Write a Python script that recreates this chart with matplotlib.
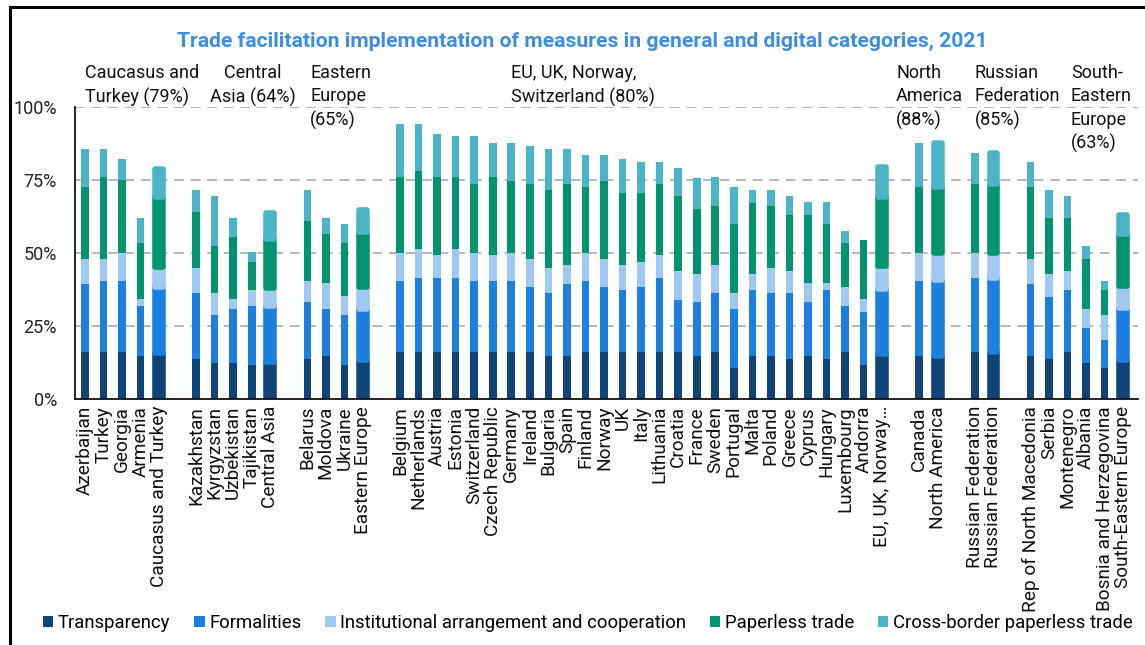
import matplotlib
matplotlib.use("Agg")
import matplotlib.pyplot as plt
from matplotlib.patches import Patch
from matplotlib.lines import Line2D
import numpy as np

plt.rcParams['font.family'] = ['Roboto', 'DejaVu Sans']

# ---------------- data ----------------
labels = [
    "Azerbaijan", "Turkey", "Georgia", "Armenia", "Caucasus and Turkey", None,
    "Kazakhstan", "Kyrgyzstan", "Uzbekistan", "Tajikistan", "Central Asia", None,
    "Belarus", "Moldova", "Ukraine", "Eastern Europe", None,
    "Belgium", "Netherlands", "Austria", "Estonia", "Switzerland", "Czech Republic",
    "Germany", "Ireland", "Bulgaria", "Spain", "Finland", "Norway", "UK", "Italy",
    "Lithuania", "Croatia", "France", "Sweden", "Portugal", "Malta", "Poland",
    "Greece", "Cyprus", "Hungary", "Luxembourg", "Andorra", "EU, UK, Norway\u2026", None,
    "Canada", "North America", None,
    "Russian Federation", "Russian Federation", None,
    "Rep of North Macedonia", "Serbia", "Montenegro", "Albania",
    "Bosnia and Herzegovina", "South-Eastern Europe",
]
is_region = [
    0, 0, 0, 0, 1, 0,
    0, 0, 0, 0, 1, 0,
    0, 0, 0, 1, 0,
    0, 0, 0, 0, 0, 0, 0, 0, 0, 0, 0, 0, 0, 0, 0, 0, 0, 0, 0, 0, 0, 0, 0, 0, 0, 0, 1, 0,
    0, 1, 0,
    0, 1, 0,
    0, 0, 0, 0, 0, 1,
]
transparency = [
    16.0, 16.0, 16.0, 14.8, 15.8, 0,
    13.8, 12.5, 12.5, 11.5, 12.7, 0,
    13.8, 14.8, 11.5, 13.4, 0,
    16.0, 16.0, 16.0, 16.0, 16.0, 16.0, 16.0, 16.0, 14.9, 14.9, 16.0, 16.0, 16.0, 16.0,
    16.0, 16.0, 14.9, 16.0, 10.5, 14.9, 14.9, 13.8, 14.9, 13.8, 16.0, 11.5, 15.3, 0,
    14.9, 14.9, 0,
    16.0, 16.0, 0,
    14.9, 13.8, 16.0, 12.5, 10.5, 13.5,
]
formalities = [
    23.5, 24.4, 24.4, 17.1, 22.6, 0,
    22.6, 16.2, 18.4, 20.4, 19.2, 0,
    19.3, 16.1, 17.2, 17.6, 0,
    24.5, 25.6, 25.6, 25.6, 24.5, 24.5, 24.5, 22.4, 21.4, 24.6, 24.5, 22.4, 21.4, 22.4,
    25.6, 18.0, 18.2, 20.4, 20.4, 22.5, 21.5, 22.6, 18.2, 23.6, 15.9, 18.4, 22.3, 0,
    25.6, 25.8, 0,
    25.6, 25.6, 0,
    24.6, 21.3, 21.4, 11.9, 9.8, 17.8,
]
institutional = [
    8.6, 7.7, 9.8, 2.3, 6.8, 0,
    8.4, 7.7, 3.3, 5.5, 6.3, 0,
    7.5, 8.7, 6.5, 7.4, 0,
    9.7, 9.7, 7.7, 9.7, 9.7, 8.8, 9.7, 9.7, 8.5, 6.5, 9.7, 9.7, 8.6, 8.6,
    7.7, 9.8, 9.7, 9.6, 5.5, 5.4, 8.4, 7.4, 6.5, 2.2, 6.5, 4.3, 7.9, 0,
    9.7, 9.5, 0,
    8.6, 8.6, 0,
    8.6, 7.7, 6.4, 6.5, 8.5, 7.6,
]
paperless = [
    24.5, 28.0, 24.8, 19.3, 24.2, 0,
    19.3, 16.1, 21.3, 9.6, 16.7, 0,
    20.4, 17.0, 18.3, 18.7, 0,
    25.9, 26.8, 26.8, 24.8, 23.6, 26.8, 24.7, 25.7, 26.9, 27.8, 22.5, 26.8, 24.6, 23.6,
    24.5, 25.8, 22.3, 20.1, 23.6, 24.5, 21.3, 19.3, 23.5, 20.4, 15.1, 20.3, 23.9, 0,
    22.4, 22.4, 0,
    23.6, 23.6, 0,
    24.5, 19.2, 18.2, 17.2, 8.6, 17.7,
]
crossborder = [
    13.0, 9.5, 7.4, 8.5, 9.4, 0,
    7.6, 17.1, 6.5, 3.3, 8.9, 0,
    10.7, 5.4, 6.5, 7.8, 0,
    18.1, 16.1, 14.9, 13.9, 16.2, 11.7, 12.9, 13.0, 13.9, 11.8, 10.8, 8.6, 11.8, 10.7,
    7.5, 9.6, 10.8, 10.0, 12.7, 4.4, 5.6, 6.5, 4.3, 7.4, 4.2, 0.0, 10.2, 0,
    15.2, 15.0, 0,
    10.7, 10.7, 0,
    8.7, 9.7, 7.6, 4.4, 3.2, 6.5,
]
series_names = ["Transparency", "Formalities", "Institutional arrangement and cooperation",
                "Paperless trade", "Cross-border paperless trade"]
colors = ["#0f4479", "#1b80e0", "#9dc9f2", "#02946f", "#4bb5c7"]
yticks = [0, 25, 50, 75, 100]
ytick_labels = ["0%", "25%", "50%", "75%", "100%"]
title = "Trade facilitation implementation of measures in general and digital categories, 2021"
group_notes = [
    ("Caucasus and\nTurkey (79%)", 85, 'left'),
    ("Central\nAsia (64%)", 253, 'center'),
    ("Eastern\nEurope\n(65%)", 310, 'left'),
    ("EU, UK, Norway,\nSwitzerland (80%)", 511, 'left'),
    ("North\nAmerica\n(88%)", 896, 'left'),
    ("Russian\nFederation\n(85%)", 975, 'left'),
    ("South-\nEastern\nEurope\n(63%)", 1071, 'left'),
]

# ---------------- figure ----------------
W, H = 1145, 645
fig = plt.figure(figsize=(W / 100, H / 100), dpi=100)
ax = fig.add_axes([75 / W, 1 - 399 / H, (1138 - 75) / W, (399 - 107.3) / H])

x = np.arange(len(labels))
keep = np.array([l is not None for l in labels])
reg = np.array(is_region, dtype=bool)
data = [np.array(s, dtype=float) for s in (transparency, formalities, institutional, paperless, crossborder)]

bw = 0.41
bottom = np.zeros(len(labels))
for vals, c in zip(data, colors):
    m = keep & ~reg
    ax.bar(x[m], vals[m], bw, bottom=bottom[m], color=c, linewidth=0, zorder=3)
    m2 = keep & reg
    ax.bar(x[m2], vals[m2], bw, bottom=bottom[m2], color=c, edgecolor=c,
           linewidth=4.0, joinstyle='round', zorder=3)
    bottom = bottom + vals

ax.set_xlim(-0.53, 56.8)
ax.set_ylim(0, 100)
ax.set_yticks(yticks)
ax.set_yticklabels(ytick_labels, fontsize=13, color="#222222")
ax.set_xticks(x[keep])
ax.set_xticklabels([l for l in labels if l is not None], rotation=90, fontsize=13.7,
                   color="#111111")
ax.tick_params(axis='both', length=0)
ax.tick_params(axis='y', pad=13)
ax.tick_params(axis='x', pad=5)

for yv in yticks[1:]:
    ax.axhline(yv, color="#b8b8b8", linewidth=1.4, linestyle=(0, (5, 3.5)), zorder=1)

for s in ['top', 'right']:
    ax.spines[s].set_visible(False)
for s in ['left', 'bottom']:
    ax.spines[s].set_color("#111111")
    ax.spines[s].set_linewidth(1.3)
ax.spines['bottom'].set_zorder(4)

# title
fig.text(582 / W, 1 - 41 / H, title, ha='center', va='center', fontsize=15.2,
         fontweight='bold', color="#3d8ee0")

# group annotations
for txt, px, ha in group_notes:
    fig.text(px / W, 1 - 64 / H, txt, ha=ha, va='top', fontsize=13, color="#111111",
             linespacing=1.38, multialignment='center' if ha == 'center' else 'left')

# frame (left and top edges)
fig.add_artist(Line2D([10 / W, 10 / W], [0, 1 - 7 / H], color='black', linewidth=2.2,
                      transform=fig.transFigure))
fig.add_artist(Line2D([10 / W, 1], [1 - 7 / H, 1 - 7 / H], color='black', linewidth=2.2,
                      transform=fig.transFigure))

# legend
handles = [Patch(facecolor=c, edgecolor='none') for c in colors]
fig.legend(handles, series_names, loc='center', bbox_to_anchor=(588 / W, 1 - 623 / H),
           ncol=5, frameon=False, fontsize=13.3, handlelength=0.55, handleheight=0.55,
           handletextpad=0.25, columnspacing=1.3, borderaxespad=0, borderpad=0)

fig.savefig("out.png", dpi=100)
